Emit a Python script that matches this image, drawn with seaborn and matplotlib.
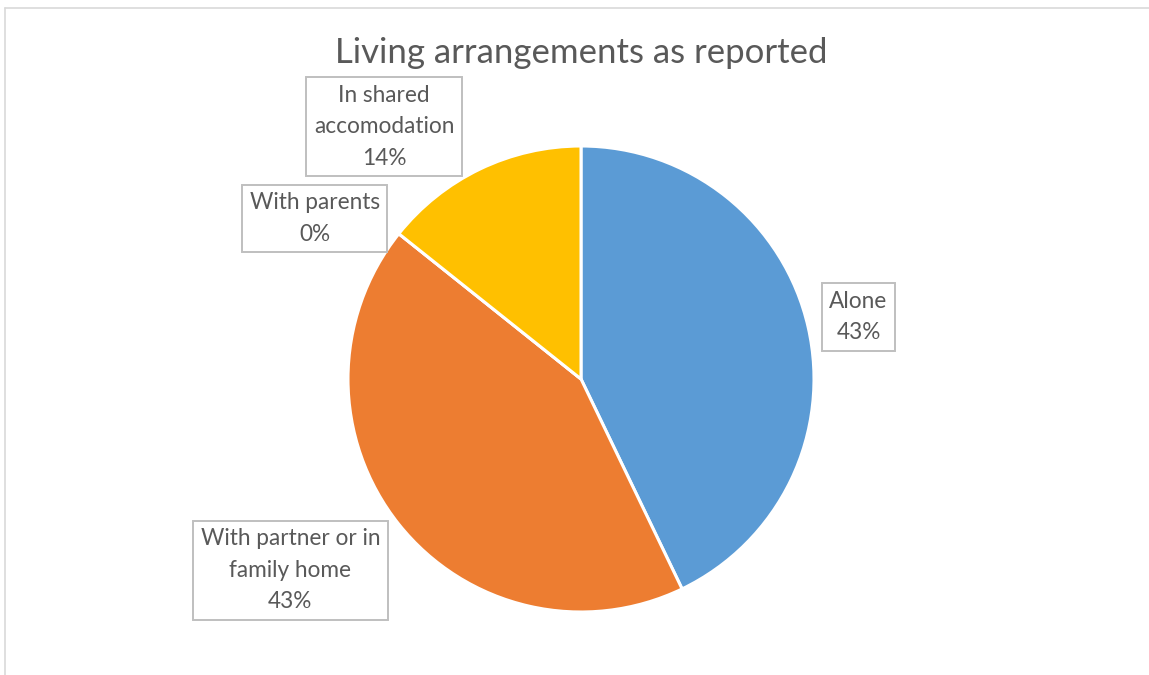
import matplotlib
matplotlib.use("Agg")
import matplotlib.pyplot as plt
from matplotlib.lines import Line2D
import seaborn as sns

# Survey responses: living arrangements
categories = ["Alone", "With partner or in\nfamily home", "With parents", "In shared\naccomodation"]
counts = [3, 3, 0, 1]
colors = ["#5B9BD5", "#ED7D31", "#A5A5A5", "#FFC000"]

sns.set_theme(style="white")
plt.rcParams["font.family"] = ["Lato", "DejaVu Sans"]

W, H = 1149, 675
fig = plt.figure(figsize=(W / 100, H / 100), dpi=100)
fig.patch.set_facecolor("white")

# pie area: centre (581, 379) px, radius 233 px
cx, cy, r = 581, 379, 233
ax = fig.add_axes([(cx - r) / W, (H - cy - r) / H, 2 * r / W, 2 * r / H])
wedges, _ = ax.pie(
    counts,
    colors=colors,
    startangle=90,
    counterclock=False,
    radius=1,
    wedgeprops=dict(edgecolor="white", linewidth=2.2),
)
ax.set_xlim(-1, 1)
ax.set_ylim(-1, 1)
ax.set_aspect("equal")
ax.axis("off")

total = sum(counts)
label_pos = [(1.191, 0.266), (-1.247, -0.820), (-1.142, 0.689), (-0.845, 1.082)]
for name, val, (lx, ly) in zip(categories, counts, label_pos):
    pct = round(100 * val / total)
    ax.text(
        lx, ly, f"{name}\n{pct}%",
        ha="center", va="center", fontsize=16.3, color="#595959",
        linespacing=1.62, clip_on=False,
        bbox=dict(boxstyle="square,pad=0.33", fc="white", ec="#BFBFBF", lw=1.4),
    )

fig.text(cx / W, 1 - 53 / H, "Living arrangements as reported",
         ha="center", va="center", fontsize=25, color="#595959")

# chart frame
frame = "#D9D9D9"
fig.add_artist(Line2D([5 / W, 5 / W], [0, 1 - 8 / H], color=frame, lw=1.2))
fig.add_artist(Line2D([5 / W, 1], [1 - 8 / H, 1 - 8 / H], color=frame, lw=1.2))

fig.savefig("out.png", dpi=100, facecolor="white")
